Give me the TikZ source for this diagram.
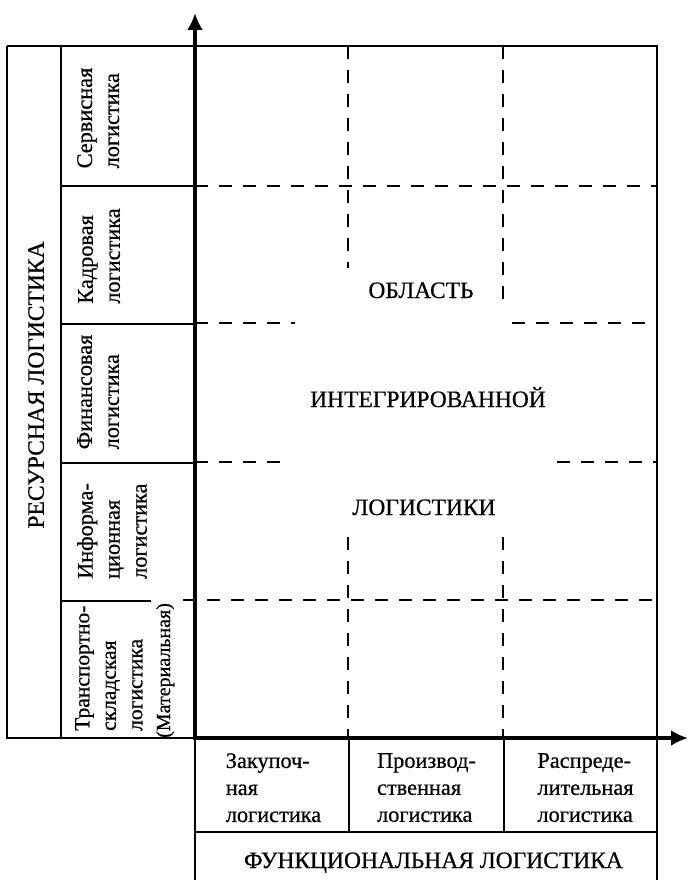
\documentclass[tikz,border=0pt]{standalone}
\usepackage{fontspec}
\setmainfont{Liberation Serif}[FakeBold=0.6]
\usetikzlibrary{arrows.meta}
\begin{document}
\begin{tikzpicture}[x=1pt,y=-1pt,
  frame/.style={line width=1.5pt},
  axisline/.style={line width=3.8pt,-{Latex[length=17pt,width=16pt]}},
  griddash/.style={line width=1.5pt,dash pattern=on 13pt off 11pt},
  lbl/.style={font=\fontsize{22.3}{27}\selectfont,inner sep=0pt},
  caplbl/.style={font=\fontsize{23.5}{28}\selectfont,inner sep=0pt},
  vlbl/.style={lbl,rotate=90,align=left,anchor=north},
  blbl/.style={lbl,align=left,anchor=north},
  tlbl/.style={caplbl,anchor=base}]
\useasboundingbox (0,0) rectangle (688,880);
% coordinates
\coordinate (origin) at (195,738);
\coordinate (ytip) at (195,13);
\coordinate (xtip) at (688,738);
% left (resource) part
\draw[frame] (7,46) -- (657,46) -- (657,880);
\draw[frame] (7,46) -- (7,738) -- (origin);
\draw[frame] (61,46) -- (61,738);
\draw[frame] (61,186) -- (195,186);
\draw[frame] (61,324) -- (195,324);
\draw[frame] (61,463) -- (195,463);
\draw[frame] (61,601) -- (151,601);
% bottom (functional) part
\draw[frame] (origin) -- (195,880);
\draw[frame] (349,738) -- (349,832);
\draw[frame] (504,738) -- (504,832);
\draw[frame] (195,832) -- (657,832);
% dashed grid
\draw[griddash] (195,186) -- (657,186);
\draw[griddash] (195,323) -- (295,323);
\draw[griddash] (512,323) -- (657,323);
\draw[griddash] (195,462) -- (289,462);
\draw[griddash] (557,462) -- (657,462);
\draw[griddash] (183,600) -- (657,600);
\draw[griddash] (348,46) -- (348,268);
\draw[griddash] (348,537) -- (348,738);
\draw[griddash] (503,46) -- (503,307);
\draw[griddash] (503,537) -- (503,738);
% axes
\draw[axisline] (195,740) -- (ytip);
\draw[axisline] (193.1,738) -- (xtip);
% labels
\node[caplbl,rotate=90,anchor=north] (res) at (28,385) {РЕСУРСНАЯ ЛОГИСТИКА};
\node[vlbl] (serv) at (77,118) {Сервисная\\логистика};
\node[vlbl] (kadr) at (78,256) {Кадровая\\логистика};
\node[vlbl] (fin) at (77,392) {Финансовая\\логистика};
\node[vlbl] (info) at (77,531) {Информа-\\ционная\\логистика};
\node[vlbl,font=\fontsize{21.5}{26.5}\selectfont,anchor=north west] (trans) at (75,731) {Транспортно-\\складская\\логистика};
\node[lbl,font=\fontsize{20}{24}\selectfont,rotate=90,anchor=base west] (mat) at (170,738) {(Материальная)};
\node[blbl] (zak) at (273.5,753) {Закупоч-\\ная\\логистика};
\node[blbl] (proizv) at (426.5,753) {Производ-\\ственная\\логистика};
\node[blbl] (raspr) at (585.5,753) {Распреде-\\лительная\\логистика};
\node[tlbl] (func) at (433.5,868) {ФУНКЦИОНАЛЬНАЯ ЛОГИСТИКА};
\node[tlbl] (obl) at (421,298) {ОБЛАСТЬ};
\node[tlbl] (integr) at (428,407) {ИНТЕГРИРОВАННОЙ};
\node[tlbl] (logi) at (424,515) {ЛОГИСТИКИ};
\end{tikzpicture}
\end{document}
